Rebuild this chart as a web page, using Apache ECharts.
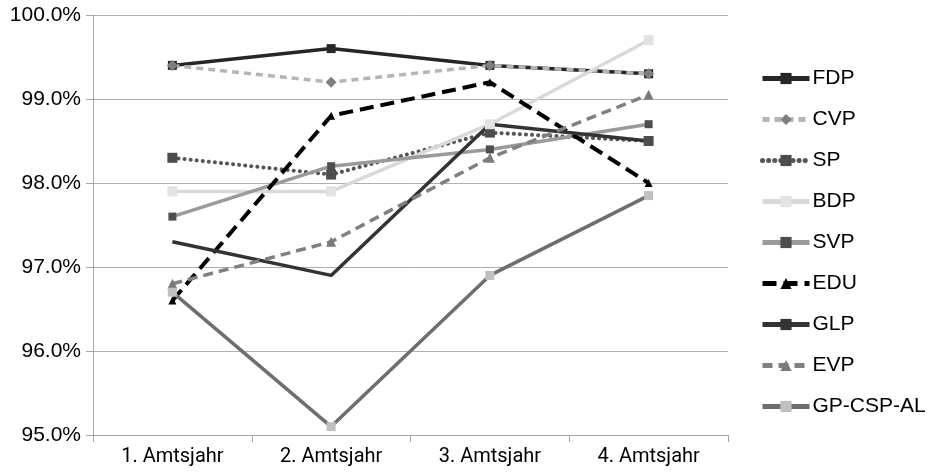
<!DOCTYPE html>
<html><head><meta charset="utf-8">
<script src="https://cdn.jsdelivr.net/npm/echarts@6/dist/echarts.min.js"></script>
<style>html,body{margin:0;padding:0;background:#fff}#c{width:939px;height:476px}</style>
</head><body><div id="c"></div>
<script>
const categories = ['1. Amtsjahr', '2. Amtsjahr', '3. Amtsjahr', '4. Amtsjahr'];
const FDP = [99.4, 99.6, 99.4, 99.3];
const CVP = [99.4, 99.2, 99.4, 99.3];
const SP = [98.3, 98.1, 98.6, 98.5];
const BDP = [97.9, 97.9, 98.7, 99.7];
const SVP = [97.6, 98.2, 98.4, 98.7];
const EDU = [96.6, 98.8, 99.2, 98.0];
const GLP = [97.3, 96.9, 98.7, 98.5];
const EVP = [96.8, 97.3, 98.3, 99.05];
const GPCSPAL = [96.7, 95.1, 96.9, 97.85];
const yTicks = { min: 95, max: 100, interval: 1 };

function mk(name, data, lineColor, width, type, symbol, symSize, symColor, showSym) {
  return {
    name, type: 'line', data,
    symbol, symbolSize: symSize,
    showSymbol: showSym !== false,
    itemStyle: { color: symColor || lineColor },
    lineStyle: { color: lineColor, width, type, cap: 'butt' },
    emphasis: { disabled: true },
    animation: false
  };
}
const series = [
  mk('FDP', FDP, '#262626', 3.5, 'solid', 'rect', 9, '#262626'),
  mk('CVP', CVP, '#b5b5b5', 3.5, [7, 5], 'diamond', 11, '#7f7f7f'),
  mk('SP', SP, '#555555', 4, [0.1, 6], 'rect', 10, '#4d4d4d'),
  mk('BDP', BDP, '#d9d9d9', 3.5, 'solid', 'rect', 10, '#e3e3e3'),
  mk('SVP', SVP, '#9a9a9a', 3.5, 'solid', 'rect', 8, '#4d4d4d'),
  mk('EDU', EDU, '#000000', 4, [14, 7], 'triangle', 8, '#000000'),
  mk('GLP', GLP, '#333333', 3.5, 'solid', 'rect', 3, '#333333', false),
  mk('EVP', EVP, '#808080', 3.5, [10, 6], 'triangle', 10, '#7a7a7a'),
  mk('GP-CSP-AL', GPCSPAL, '#6e6e6e', 3.5, 'solid', 'rect', 9, '#c0c0c0')
];
series[2].lineStyle.cap = 'round';

const chart = echarts.init(document.getElementById('c'), null, { renderer: 'canvas' });
chart.setOption({
  backgroundColor: '#fff',
  animation: false,
  grid: { left: 93, right: 211, top: 15, bottom: 41, containLabel: false },
  legend: {
    orient: 'vertical', left: 760, top: 68, padding: 0,
    itemWidth: 47, itemHeight: 14, itemGap: 20,
    lineStyle: { width: 5 },
    textStyle: { fontFamily: 'Liberation Sans', fontSize: 21, color: '#000', padding: [0, 0, 0, -2] },
    data: series.map(s => s.name)
  },
  xAxis: {
    type: 'category', data: categories, boundaryGap: true,
    axisLine: { lineStyle: { color: '#a6a6a6', width: 1 } },
    axisTick: { show: true, length: 7, lineStyle: { color: '#a6a6a6' } },
    axisLabel: { color: '#000', fontFamily: 'Roboto', fontSize: 20, margin: 12 }
  },
  yAxis: {
    type: 'value', min: yTicks.min, max: yTicks.max, interval: yTicks.interval,
    axisLine: { show: true, lineStyle: { color: '#a6a6a6', width: 1 } },
    axisTick: { show: true, length: 7, lineStyle: { color: '#a6a6a6' } },
    splitLine: { show: true, lineStyle: { color: '#b0b0b0', width: 1 } },
    axisLabel: { color: '#000', fontFamily: 'Liberation Sans', fontSize: 21, margin: 12,
      formatter: v => v.toFixed(1) + '%' }
  },
  series
});
</script></body></html>
